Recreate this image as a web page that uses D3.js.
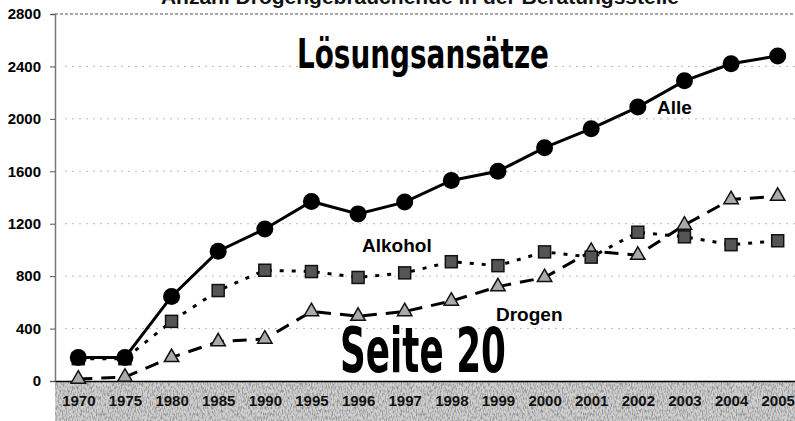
<!DOCTYPE html>
<html>
<head>
<meta charset="utf-8">
<script src="https://cdn.jsdelivr.net/npm/d3@7"></script>
<style>
  body { margin: 0; background: #fff; }
  svg { display: block; }
  .tick-label { font-family: 'Liberation Sans', Arial, sans-serif; font-weight: bold; font-size: 15px; }
</style>
</head>
<body>
<div id="chart"></div>
<script>
const years = ['1970', '1975', '1980', '1985', '1990', '1995', '1996', '1997', '1998', '1999', '2000', '2001', '2002', '2003', '2004', '2005'];
const alle = [180, 180, 645, 990, 1160, 1370, 1275, 1365, 1530, 1600, 1780, 1925, 2090, 2290, 2420, 2480];
const alkohol = [170, 170, 455, 690, 845, 835, 790, 825, 910, 880, 985, 945, 1135, 1100, 1040, 1070];
const drogen = [15, 30, 180, 300, 320, 530, 495, 530, 610, 720, 790, 990, 960, 1190, 1385, 1410];
const yTicks = [0, 400, 800, 1200, 1600, 2000, 2400, 2800];

const W = 795, H = 421;
const plotLeft = 55, plotTop = 14, plotBottom = 381;

const svg = d3.select('#chart').append('svg')
  .attr('width', W)
  .attr('height', H);

// scan-like grain for the x label band
const defs = svg.append('defs');
const f = defs.append('filter').attr('id', 'grain')
  .attr('filterUnits', 'userSpaceOnUse')
  .attr('x', plotLeft).attr('y', plotBottom).attr('width', W - plotLeft).attr('height', H - plotBottom);
f.append('feTurbulence').attr('type', 'fractalNoise').attr('baseFrequency', '0.8 0.3').attr('numOctaves', 2).attr('seed', 7).attr('result', 'n');
f.append('feColorMatrix').attr('in', 'n').attr('type', 'matrix')
  .attr('values', '0 0 0 0 0.3  0 0 0 0 0.3  0 0 0 0 0.3  3.2 0 0 0 -1.35');

const x = d3.scalePoint()
  .domain(years)
  .range([plotLeft, W + 6])
  .padding(0.5);

const y = d3.scaleLinear()
  .domain([0, 2800])
  .range([plotBottom, plotTop]);

// gray band behind x labels
svg.append('rect')
  .attr('x', plotLeft).attr('y', plotBottom)
  .attr('width', W - plotLeft).attr('height', H - plotBottom)
  .attr('fill', '#d0d0d0');
svg.append('rect')
  .attr('x', plotLeft).attr('y', plotBottom)
  .attr('width', W - plotLeft).attr('height', H - plotBottom)
  .attr('fill', '#fff')
  .attr('filter', 'url(#grain)');

// partially cut title
svg.append('text')
  .attr('x', 420).attr('y', 4)
  .attr('text-anchor', 'middle')
  .attr('font-family', "'Liberation Sans', Arial, sans-serif")
  .attr('font-weight', 'bold')
  .attr('font-size', 21)
  .attr('fill', '#111')
  .text('Anzahl Drogengebrauchende in der Beratungsstelle');

// gridlines
svg.append('g')
  .selectAll('line')
  .data(yTicks.filter(d => d > 0 && d < 2800))
  .join('line')
  .attr('x1', plotLeft + 10).attr('x2', W)
  .attr('y1', d => y(d)).attr('y2', d => y(d))
  .attr('stroke', '#bbb')
  .attr('stroke-width', 1)
  .attr('stroke-dasharray', '2,5');

// top border
svg.append('line')
  .attr('x1', plotLeft).attr('x2', W)
  .attr('y1', y(2800)).attr('y2', y(2800))
  .attr('stroke', '#555')
  .attr('stroke-dasharray', '3,2');

// y axis
const yAxis = svg.append('g')
  .attr('transform', 'translate(' + plotLeft + ',0)')
  .call(d3.axisLeft(y).tickValues(yTicks).tickFormat(d3.format('d')).tickSize(5).tickPadding(9));
yAxis.select('.domain').attr('stroke', '#777').attr('stroke-width', 1.5);
yAxis.selectAll('.tick line').attr('stroke', '#555');
yAxis.selectAll('.tick text').attr('class', 'tick-label').attr('fill', '#000');

// x axis
const xAxis = svg.append('g')
  .attr('transform', 'translate(0,' + plotBottom + ')')
  .call(d3.axisBottom(x).tickSize(0).tickPadding(14));
xAxis.select('.domain').attr('stroke', '#000').attr('stroke-width', 1.5);
xAxis.selectAll('.tick text')
  .attr('class', 'tick-label')
  .attr('fill', '#111');

const seriesList = [
  { name: 'Drogen', values: drogen, dash: '14,9', marker: 'triangle' },
  { name: 'Alkohol', values: alkohol, dash: '4,8', marker: 'square' },
  { name: 'Alle', values: alle, dash: null, marker: 'circle' }
];

const line = d3.line()
  .x((d, i) => x(years[i]))
  .y(d => y(d));

seriesList.forEach(s => {
  const g = svg.append('g').attr('class', 'series');
  g.append('path')
    .attr('d', line(s.values))
    .attr('fill', 'none')
    .attr('stroke', '#000')
    .attr('stroke-width', 3)
    .attr('stroke-dasharray', s.dash);

  const pts = g.selectAll('.pt').data(s.values).join('g')
    .attr('transform', (d, i) => 'translate(' + x(years[i]) + ',' + y(d) + ')');

  if (s.marker === 'circle') {
    pts.append('circle').attr('r', 8.5).attr('fill', '#000');
  } else if (s.marker === 'square') {
    pts.append('rect').attr('x', -6).attr('y', -6).attr('width', 12).attr('height', 12)
      .attr('fill', '#555').attr('stroke', '#111').attr('stroke-width', 1.5);
  } else {
    pts.append('path').attr('d', d3.symbol(d3.symbolTriangle, 90)())
      .attr('fill', '#aaa').attr('stroke', '#111').attr('stroke-width', 1.5);
  }
});

// series labels
const labelFont = "'Liberation Sans', Arial, sans-serif";
svg.append('text').attr('x', 657).attr('y', 114).text('Alle')
  .attr('font-family', labelFont).attr('font-weight', 'bold').attr('font-size', 19);
svg.append('text').attr('x', 362).attr('y', 252).text('Alkohol')
  .attr('font-family', labelFont).attr('font-weight', 'bold').attr('font-size', 19);
svg.append('text').attr('x', 496).attr('y', 321).text('Drogen')
  .attr('font-family', labelFont).attr('font-weight', 'bold').attr('font-size', 19);

// overlaid headings
const condensed = "'Liberation Sans Narrow', 'DejaVu Sans Condensed', Arial, sans-serif";
svg.append('text').attr('x', 297).attr('y', 68).text('Lösungsansätze')
  .attr('font-family', condensed).attr('font-weight', 'bold').attr('font-size', 40)
  .attr('textLength', 252).attr('lengthAdjust', 'spacingAndGlyphs');
svg.append('text').attr('x', 340).attr('y', 372).text('Seite 20')
  .attr('font-family', condensed).attr('font-weight', 'bold').attr('font-size', 62)
  .attr('textLength', 166).attr('lengthAdjust', 'spacingAndGlyphs');
</script>
</body>
</html>
